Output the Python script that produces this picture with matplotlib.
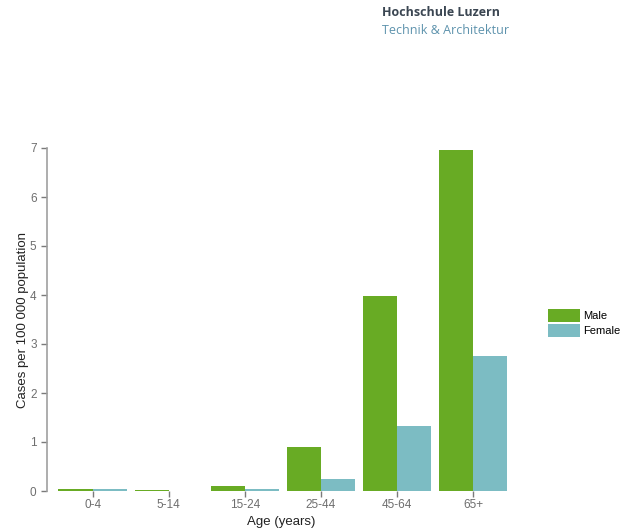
import matplotlib
matplotlib.use("Agg")
import matplotlib.pyplot as plt
import numpy as np
from matplotlib.patches import Patch

categories = ["0-4", "5-14", "15-24", "25-44", "45-64", "65+"]
male = [0.04, 0.02, 0.10, 0.90, 3.98, 6.96]
female = [0.04, 0.0, 0.05, 0.24, 1.33, 2.76]
yticks = [0, 1, 2, 3, 4, 5, 6, 7]

c_male = "#68ab24"
c_female = "#7cbcc3"

plt.rcParams['font.family'] = ['Liberation Sans', 'DejaVu Sans']

fig = plt.figure(figsize=(6.27, 5.28), dpi=100)
ax = fig.add_axes([47/627, 37/528, (515-47)/627, (491-148)/528])

x = np.arange(len(categories))
w = 0.45
ax.bar(x - w/2, male, width=w, color=c_male, edgecolor="none")
ax.bar(x + w/2, female, width=w, color=c_female, edgecolor="none")

ax.set_xlim(-0.6, 5.55)
ax.set_ylim(0, 7)
ax.set_xticks(x)
ax.set_xticklabels(categories)
ax.set_yticks(yticks)

for s in ["top", "right", "bottom"]:
    ax.spines[s].set_visible(False)
ax.spines["left"].set_color("#a0a0a0")
ax.spines["left"].set_linewidth(1.2)

ax.tick_params(axis="both", colors="#7a7a7a", labelcolor="#6e6e6e", labelsize=8.5, length=4, width=1)
ax.tick_params(axis="x", pad=2)

ax.set_ylabel("Cases per 100 000 population", fontsize=9.5, color="#222222", labelpad=1)
ax.set_xlabel("Age (years)", fontsize=9.5, color="#222222", labelpad=3)

handles = [Patch(facecolor=c_male, edgecolor="none", label="Male"),
           Patch(facecolor=c_female, edgecolor="none", label="Female")]
fig.legend(handles=handles, loc="center left", bbox_to_anchor=(548/627, 1 - 323/528),
           frameon=False, fontsize=8, handlelength=2.9, handleheight=1.45,
           handletextpad=0.25, borderpad=0, borderaxespad=0, labelspacing=0.15)

fig.text(382/627, 1 - 13/528, "Hochschule Luzern", fontsize=9, fontweight="bold",
         color="#3b4652", family=["Open Sans", "DejaVu Sans"], va="center", ha="left")
fig.text(382/627, 1 - 30/528, "Technik & Architektur", fontsize=9,
         color="#5e93ad", family=["Open Sans", "DejaVu Sans"], va="center", ha="left")

fig.savefig("out.png", dpi=100, facecolor="white")
